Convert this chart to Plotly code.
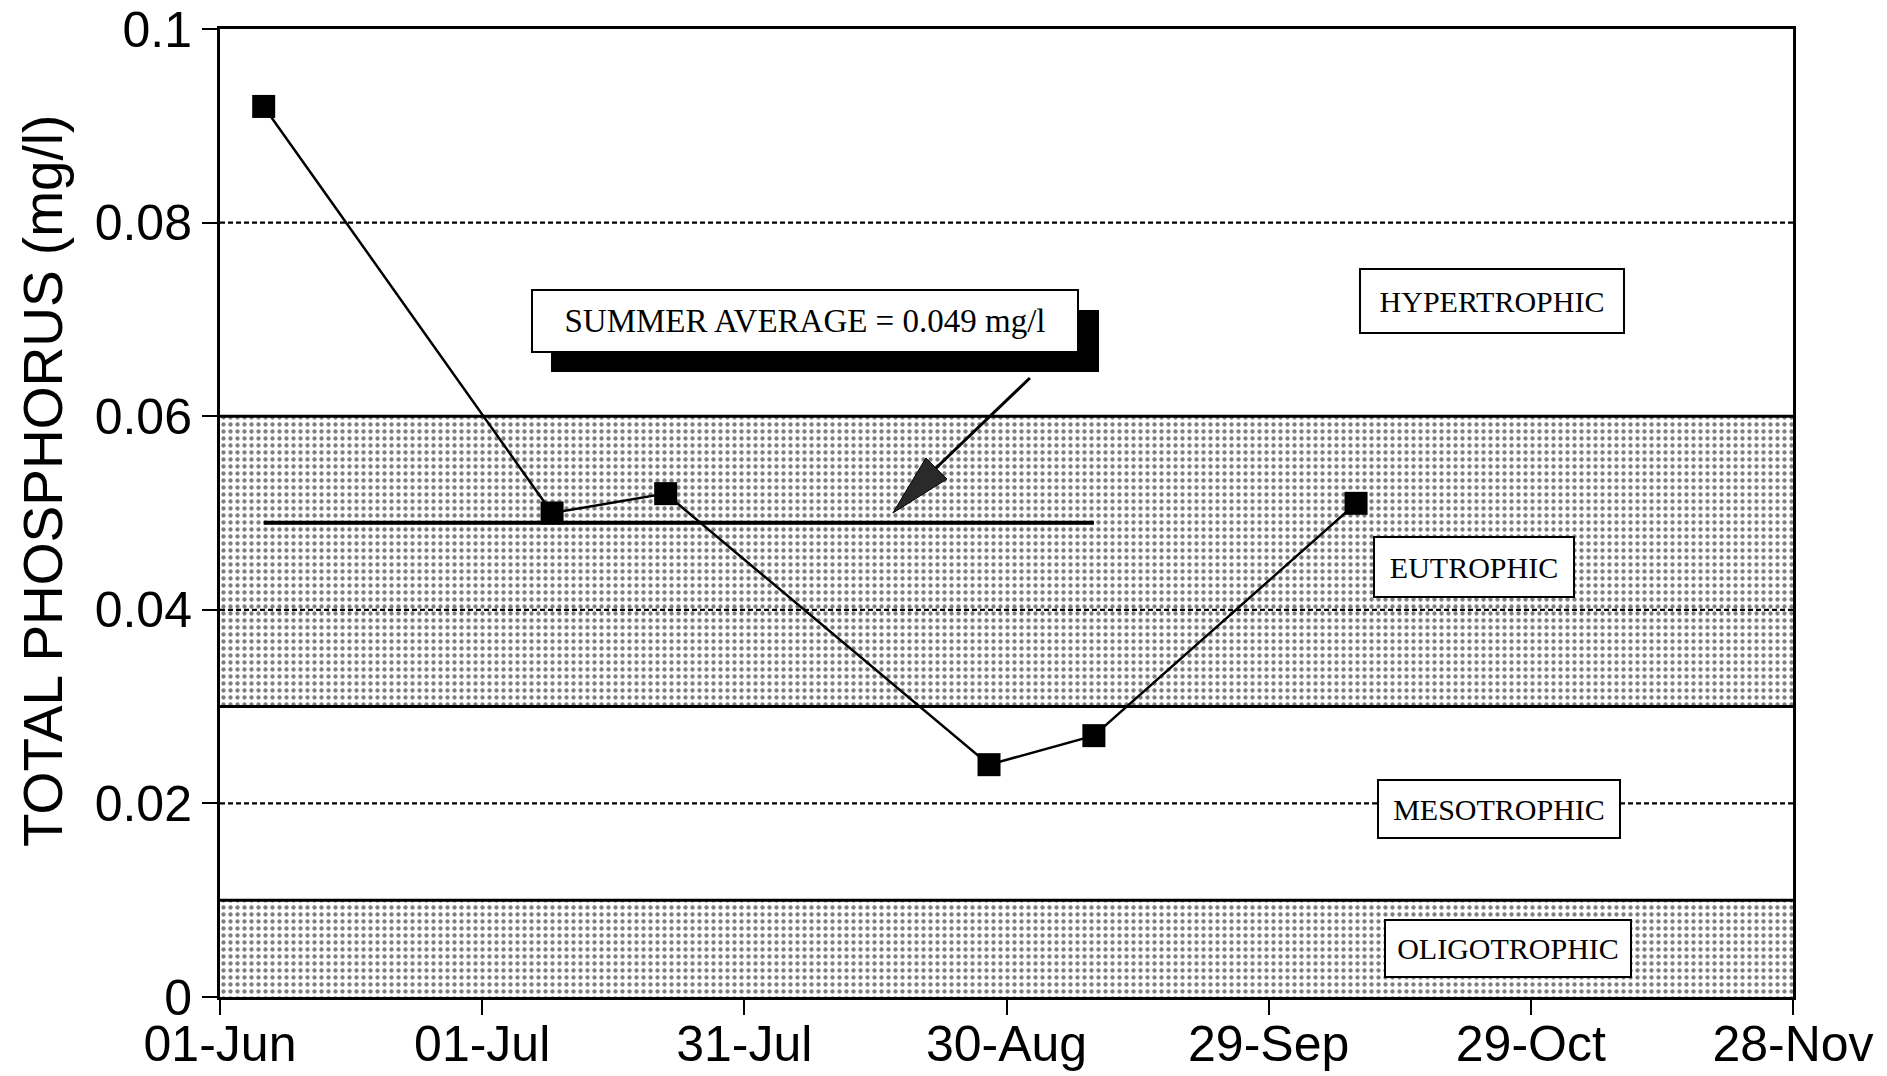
import plotly.graph_objects as go

# sample dates and total phosphorus (mg/l)
sample_dates = ["1990-06-06", "1990-07-09", "1990-07-22", "1990-08-28", "1990-09-09", "1990-10-09"]
total_p = [0.092, 0.050, 0.052, 0.024, 0.027, 0.051]

summer_avg = 0.049
summer_start = "1990-06-06"
summer_end = "1990-09-09"

# trophic state bands (shaded) and boundaries
shaded_bands = [(0.03, 0.06), (0.0, 0.01)]
solid_limits = [0.06, 0.03, 0.01]
dashed_limits = [0.08, 0.04, 0.02]

x_start = "1990-06-01"
x_end = "1990-11-28"
x_ticks = ["1990-06-01", "1990-07-01", "1990-07-31", "1990-08-30",
           "1990-09-29", "1990-10-29", "1990-11-28"]
y_ticks = [0, 0.02, 0.04, 0.06, 0.08, 0.1]
y_ticktext = ["0", "0.02", "0.04", "0.06", "0.08", "0.1"]

arrow_tip_date = "1990-08-17"
arrow_tip_value = 0.050

W, H = 1887, 1076
L, R, T, B = 220, 94, 29, 79
PW, PH = W - L - R, H - T - B


def px(x, y):
    # page pixels -> paper coords
    return (x - L) / PW, (H - B - y) / PH


fig = go.Figure()

for lo, hi in shaded_bands:
    fig.add_scatter(
        x=[x_start, x_end, x_end, x_start, x_start],
        y=[lo, lo, hi, hi, lo],
        mode="lines",
        line=dict(width=0),
        fill="toself",
        fillcolor="white",
        fillpattern=dict(shape=".", fgcolor="black", bgcolor="white", size=7, solidity=0.3),
        hoverinfo="skip",
        showlegend=False,
    )

fig.add_scatter(
    x=[summer_start, summer_end],
    y=[summer_avg, summer_avg],
    mode="lines",
    line=dict(color="black", width=4),
    showlegend=False,
)

fig.add_scatter(
    x=sample_dates,
    y=total_p,
    mode="lines+markers",
    line=dict(color="black", width=2.5),
    marker=dict(symbol="square", size=23, color="black"),
    showlegend=False,
)

shapes = []
for v in solid_limits:
    shapes.append(dict(type="line", xref="paper", x0=0, x1=1, yref="y", y0=v, y1=v,
                       line=dict(color="black", width=3), layer="above"))
for v in dashed_limits:
    shapes.append(dict(type="line", xref="paper", x0=0, x1=1, yref="y", y0=v, y1=v,
                       line=dict(color="black", width=2.2, dash="5px,3px"), layer="above"))

# arrow pointing at the summer average line
shapes.append(dict(type="line", xref="x", yref="y", xsizemode="pixel", ysizemode="pixel",
                   xanchor=arrow_tip_date, yanchor=arrow_tip_value,
                   x0=40, y0=42, x1=137, y1=135,
                   line=dict(color="black", width=3), layer="above"))
shapes.append(dict(type="path", xref="x", yref="y", xsizemode="pixel", ysizemode="pixel",
                   xanchor=arrow_tip_date, yanchor=arrow_tip_value,
                   path="M 0 0 L 33 55 L 54 34 Z",
                   fillcolor="#2a2a2a", line=dict(color="black", width=1), layer="above"))

# drop shadow behind the summer average box
sx0, sy0 = px(551, 372)
sx1, sy1 = px(1099, 310)
shapes.append(dict(type="rect", xref="paper", yref="paper", x0=sx0, x1=sx1, y0=sy0, y1=sy1,
                   fillcolor="black", line=dict(width=0), layer="above"))

serif = "Liberation Serif, Times New Roman, serif"
sans = "Liberation Sans, Arial, Helvetica, sans-serif"
annotations = []


def box(text, cx, cy, w, h, size):
    ax_, ay_ = px(cx, cy)
    annotations.append(dict(
        text=text, xref="paper", yref="paper", x=ax_, y=ay_,
        xanchor="center", yanchor="middle", showarrow=False,
        width=w, height=h, bgcolor="white", bordercolor="black",
        borderwidth=2, borderpad=0,
        font=dict(family=serif, size=size, color="black"),
    ))


box("SUMMER AVERAGE = 0.049 mg/l", 805, 321, 544, 60, 33)
box("HYPERTROPHIC", 1492, 301, 262, 62, 30)
box("EUTROPHIC", 1474, 567, 198, 58, 30)
box("MESOTROPHIC", 1499, 809, 240, 56, 30)
box("OLIGOTROPHIC", 1508, 948, 244, 55, 30)

# y axis title, placed by hand (it sits a bit above the plot centre)
tx, ty = px(43, 481)
annotations.append(dict(
    text="TOTAL PHOSPHORUS (mg/l)", xref="paper", yref="paper", x=tx, y=ty,
    xanchor="center", yanchor="middle", showarrow=False, textangle=-90,
    font=dict(family=sans, size=55, color="black"),
))

axis_common = dict(
    tickfont=dict(size=50),
    showgrid=False,
    zeroline=False,
    showline=True,
    linecolor="black",
    linewidth=3,
    mirror=True,
    ticks="outside",
    ticklen=15,
    tickwidth=2,
    tickcolor="black",
    automargin=False,
    ticklabeloverflow="allow",
)

fig.update_layout(
    width=W,
    height=H,
    margin=dict(l=L, r=R, t=T, b=B, autoexpand=False),
    paper_bgcolor="white",
    plot_bgcolor="white",
    shapes=shapes,
    annotations=annotations,
    font=dict(family=sans, color="black"),
    xaxis=dict(
        type="date",
        range=[x_start, x_end],
        tickvals=x_ticks,
        tickformat="%d-%b",
        ticklabelstandoff=-14,
        **axis_common,
    ),
    yaxis=dict(
        range=[0, 0.1],
        tickvals=y_ticks,
        ticktext=y_ticktext,
        **axis_common,
    ),
)

# drop the browser's default body margin so the figure fills the window exactly
fig.write_html(
    "out.html",
    config={"displayModeBar": False},
    post_script="document.body.style.margin='0';document.body.style.overflow='hidden';",
)
